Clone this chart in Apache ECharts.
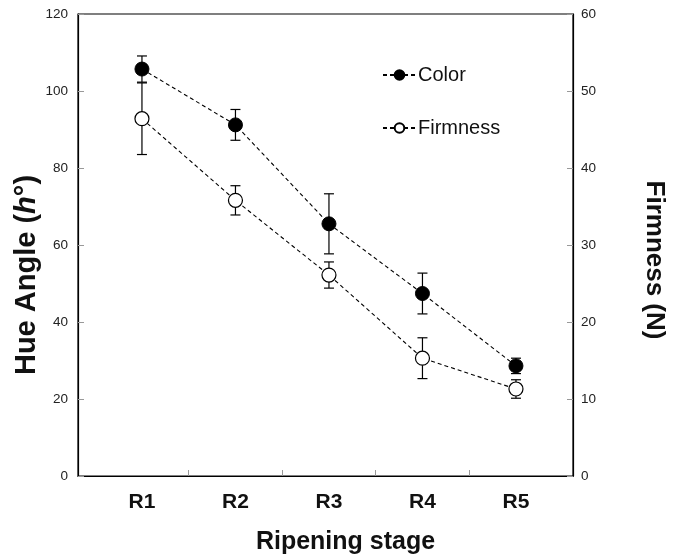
<!DOCTYPE html>
<html><head><meta charset="utf-8">
<script src="https://cdn.jsdelivr.net/npm/echarts@6/dist/echarts.min.js"></script>
<style>html,body{margin:0;padding:0;background:#fff}#c{width:676px;height:558px}</style>
</head><body><div id="c"></div>
<script>
var categories = ['R1','R2','R3','R4','R5'];
var colorValues = [105.7, 91.2, 65.5, 47.4, 28.6];
var colorErrors = [3.4, 4.0, 7.8, 5.3, 2.0];
var firmnessValues = [46.4, 35.8, 26.1, 15.3, 11.3];
var firmnessErrors = [4.65, 1.9, 1.7, 2.65, 1.2];
var leftTicks = [0, 20, 40, 60, 80, 100, 120];
var rightTicks = [0, 10, 20, 30, 40, 50, 60];

var FONT = '"Liberation Sans", Arial, sans-serif';
var chart = echarts.init(document.getElementById('c'), null, {renderer:'canvas'});

var catPos = categories.map(function(c,i){ return i + 1; });
var catTicks = catPos.slice(0, -1).map(function(p){ return p + 0.5; });

function pts(vals){ return vals.map(function(v,i){ return [catPos[i], v]; }); }
function errData(vals, errs){
  return vals.map(function(v,i){ return [catPos[i], v - errs[i], v + errs[i]]; });
}
function errRender(params, api){
  var x = api.value(0);
  var lo = api.coord([x, api.value(1)]);
  var hi = api.coord([x, api.value(2)]);
  var w = 5;
  var st = {stroke:'#000', lineWidth:1.2};
  return {type:'group', children:[
    {type:'line', shape:{x1:lo[0], y1:lo[1], x2:hi[0], y2:hi[1]}, style:st},
    {type:'line', shape:{x1:lo[0]-w, y1:lo[1], x2:lo[0]+w, y2:lo[1]}, style:st},
    {type:'line', shape:{x1:hi[0]-w, y1:hi[1], x2:hi[0]+w, y2:hi[1]}, style:st}
  ]};
}

var option = {
  animation:false,
  backgroundColor:'#fff',
  textStyle:{fontFamily:FONT},
  grid:{left:78, right:103, top:14, bottom:82, outerBoundsMode:'none', containLabel:false,
    show:true, borderColor:'#000', borderWidth:1.2, backgroundColor:'transparent'},
  legend:{
    orient:'vertical', left:377, top:60, itemGap:33, itemWidth:33, itemHeight:12,
    textStyle:{fontFamily:FONT, fontSize:20, color:'#111', padding:[0,0,0,-3]},
    data:['Color','Firmness']
  },
  xAxis:{
    type:'value', min:0.316, max:5.61,
    splitLine:{show:false},
    axisLine:{lineStyle:{color:'#000', width:1.2}},
    axisTick:{show:true, inside:true, length:6, customValues:catTicks, lineStyle:{color:'#999'}},
    axisLabel:{customValues:catPos, formatter:function(v){ return categories[Math.round(v)-1] || ''; },
      fontFamily:FONT, fontSize:21, fontWeight:'bold', color:'#111', margin:16},
    name:'Ripening stage', nameLocation:'middle', nameGap:54, nameMoveOverlap:false,
    nameTextStyle:{fontFamily:FONT, fontSize:25, fontWeight:'bold', color:'#111', padding:[0,0,0,40]}
  },
  yAxis:[{
    type:'value', min:leftTicks[0], max:leftTicks[leftTicks.length-1], interval:leftTicks[1]-leftTicks[0],
    axisLine:{show:true, lineStyle:{color:'#000', width:1.2}},
    axisTick:{show:true, inside:true, length:6, lineStyle:{color:'#999'}},
    splitLine:{show:false},
    axisLabel:{fontFamily:FONT, fontSize:13.5, color:'#222', margin:10},
    name:'{n|Hue Angle (}{i|h}{n|°)}', nameLocation:'middle', nameGap:37, nameRotate:90, nameMoveOverlap:false,
    nameTextStyle:{fontFamily:FONT, fontSize:29, fontWeight:'bold', color:'#111', padding:[0,60,0,0],
      rich:{n:{fontFamily:FONT, fontSize:29, fontWeight:'bold', color:'#111'},
            i:{fontFamily:FONT, fontSize:29, fontWeight:'bold', fontStyle:'italic', color:'#111'}}}
  },{
    type:'value', min:rightTicks[0], max:rightTicks[rightTicks.length-1], interval:rightTicks[1]-rightTicks[0],
    position:'right',
    axisLine:{show:true, lineStyle:{color:'#000', width:1.2}},
    axisTick:{show:true, inside:true, length:6, lineStyle:{color:'#999'}},
    splitLine:{show:false},
    axisLabel:{fontFamily:FONT, fontSize:13.5, color:'#222', margin:8},
    name:'Firmness (N)', nameLocation:'middle', nameGap:68, nameRotate:-90, nameMoveOverlap:false,
    nameTextStyle:{fontFamily:FONT, fontSize:26, fontWeight:'bold', color:'#111', padding:[0,0,0,30]}
  }],
  series:[
    {type:'custom', name:'colorErr', yAxisIndex:0, z:1, renderItem:errRender, data:errData(colorValues, colorErrors), silent:true},
    {type:'custom', name:'firmErr', yAxisIndex:1, z:1, renderItem:errRender, data:errData(firmnessValues, firmnessErrors), silent:true},
    {type:'line', name:'Color', yAxisIndex:0, z:5, data:pts(colorValues),
      symbol:'circle', symbolSize:14,
      itemStyle:{color:'#000', borderColor:'#000', borderWidth:1},
      lineStyle:{color:'#000', width:1.1, type:[4,3]}},
    {type:'line', name:'Firmness', yAxisIndex:1, z:5, data:pts(firmnessValues),
      symbol:'circle', symbolSize:14,
      itemStyle:{color:'#fff', borderColor:'#000', borderWidth:1.2},
      lineStyle:{color:'#000', width:1.1, type:[4,3]}}
  ]
};
chart.setOption(option);
</script>
</body></html>
